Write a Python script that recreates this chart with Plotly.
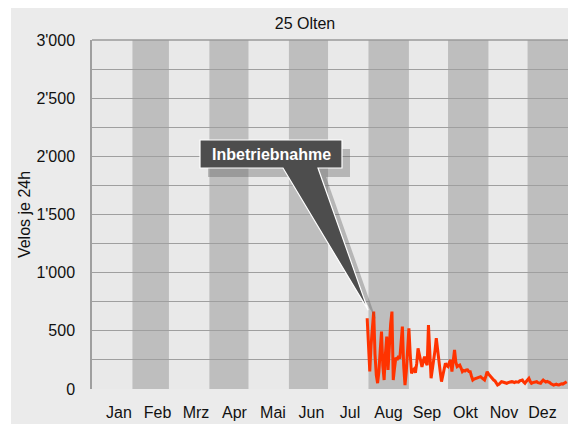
import plotly.graph_objects as go
import pandas as pd

# ---------------- data ----------------
title_text = "25 Olten"
y_title = "Velos je 24h"
callout_text = "Inbetriebnahme"
start_date = "2015-07-31"
month_labels = ["Jan", "Feb", "Mrz", "Apr", "Mai", "Jun",
                "Jul", "Aug", "Sep", "Okt", "Nov", "Dez"]
y_tick_values = [0, 500, 1000, 1500, 2000, 2500, 3000]

daily_counts = [
    608, 420, 150, 380, 560, 665, 300, 120, 50, 150,
    330, 493, 200, 77, 300, 450, 163, 380, 560, 665,
    77, 180, 270, 250, 283, 260, 400, 536, 200, 34,
    150, 330, 521, 300, 135, 160, 172, 140, 220, 350,
    300, 235, 190, 240, 278, 230, 204, 550, 250, 92,
    170, 235, 330, 436, 320, 249, 150, 63, 120, 180,
    221, 200, 192, 230, 249, 149, 250, 335, 230, 192,
    200, 206, 180, 150, 160, 155, 163, 165, 150, 149,
    110, 77, 85, 90, 92, 95, 100, 106, 95, 85,
    77, 110, 149, 130, 115, 106, 90, 77, 70, 50,
    34, 40, 55, 63, 60, 55, 50, 49, 55, 60,
    58, 63, 60, 55, 62, 63, 58, 70, 72, 77,
    60, 49, 65, 80, 92, 65, 49, 55, 60, 58,
    63, 55, 50, 49, 65, 77, 68, 60, 65, 63,
    55, 45, 40, 34, 38, 42, 36, 34, 40, 45,
    42, 49, 55, 63,
]
dates = pd.date_range(start_date, periods=len(daily_counts), freq="D")

# ---------------- layout geometry (page pixels; figure sits at 8,8) ----------------
OFF = 8
W, H = 568 - OFF, 424 - OFF
PL, PR, PT, PB = 92, 568, 40, 389          # plot box in page pixels
pw, ph = PR - PL, PB - PT


def px_x(px):
    return (px - PL) / pw


def px_y(py):
    return (PB - py) / ph


year = dates[0].year
x_start = pd.Timestamp(f"{year}-01-01")
x_end = pd.Timestamp(f"{year + 1}-01-01")
span = x_end - x_start
y_max = 3000

month_starts = pd.date_range(x_start, x_end, freq="MS")
# month labels are evenly spaced along the axis
lab0, lab_step = px_x(99.75), 38.5 / pw
label_pos = [x_start + span * (lab0 + (i + 0.5) * lab_step) for i in range(len(month_labels))]

fig = go.Figure()
fig.add_trace(go.Scatter(
    x=dates, y=daily_counts, mode="lines",
    line=dict(color="#ff3300", width=3),
    hoverinfo="skip", showlegend=False,
))

shapes = []
# thin white strip at the far left of the panel
shapes.append(dict(type="rect", xref="paper", yref="paper",
                   x0=px_x(0), x1=px_x(11), y0=px_y(430), y1=px_y(0),
                   fillcolor="white", line=dict(width=0), layer="below"))
# alternating month bands
for i in range(1, 12, 2):
    shapes.append(dict(type="rect", xref="x", yref="paper",
                       x0=month_starts[i], x1=month_starts[i + 1], y0=0, y1=1,
                       fillcolor="#bebebe", line=dict(width=0), layer="between"))
# top frame line
shapes.append(dict(type="line", xref="paper", yref="paper", x0=0, x1=1, y0=1, y1=1,
                   line=dict(color="#9a9a9a", width=1.5), layer="above"))

# callout, tip pointing at the start of the data
tip_x = (dates[0] - x_start) / span + 0.002
tip_y = (daily_counts[0] + 70) / y_max
bx0, bx1 = px_x(200), px_x(342)
by0, by1 = px_y(168), px_y(140)
tb0, tb1 = px_x(283), px_x(318)


def callout_path(dx, dy):
    pts = [(bx0, by1), (bx1, by1), (bx1, by0), (tb1, by0), (tip_x, tip_y),
           (tb0, by0), (bx0, by0)]
    return "M " + " L ".join(f"{x + dx:.5f},{y + dy:.5f}" for x, y in pts) + " Z"


sdx, sdy = 8 / pw, -9 / ph
shapes.append(dict(type="path", xref="paper", yref="paper", path=callout_path(sdx, sdy),
                   fillcolor="rgba(90,90,90,0.35)", line=dict(width=0), layer="above"))
shapes.append(dict(type="path", xref="paper", yref="paper", path=callout_path(0, 0),
                   fillcolor="#4d4d4d", line=dict(color="white", width=1.2), layer="above"))

fig.update_layout(
    width=W, height=H, autosize=False,
    margin=dict(l=PL - OFF, r=W - (PR - OFF), t=PT - OFF, b=H - (PB - OFF), pad=0),
    paper_bgcolor="#ebebeb", plot_bgcolor="#e9e9e9",
    separators=".'",
    font=dict(family="Liberation Sans, Arial, sans-serif", size=16, color="#111"),
    title=dict(text=title_text, x=(305 - OFF) / W, xanchor="center",
               y=1 - (23.5 - OFF) / H, yanchor="middle", font=dict(size=16, color="#111")),
    shapes=shapes,
    annotations=[dict(text=f"<b>{callout_text}</b>", xref="paper", yref="paper",
                      x=(bx0 + bx1) / 2, y=(by0 + by1) / 2, xanchor="center",
                      yanchor="middle", showarrow=False,
                      font=dict(color="white", size=16))],
    showlegend=False,
)
fig.update_xaxes(
    type="date", range=[x_start, x_end], showgrid=False, zeroline=False,
    tickvals=label_pos, ticktext=month_labels, ticks="", ticklabelstandoff=12,
    showline=False, fixedrange=True, automargin=False,
)
fig.update_yaxes(
    range=[0, y_max], tickvals=y_tick_values, tickformat=",d",
    showgrid=True, gridcolor="#9f9f9f", gridwidth=1,
    minor=dict(dtick=250, showgrid=True, gridcolor="#9f9f9f", gridwidth=1),
    zeroline=False, showline=True, linecolor="#9f9f9f", linewidth=1.5,
    ticks="", ticklabelstandoff=12,
    title=dict(text=y_title, standoff=2, font=dict(size=16)),
    fixedrange=True, automargin=False,
)

fig.write_html("out.html",
               post_script="document.body.style.margin='8px 0 0 8px';"
                           "document.documentElement.style.overflow='hidden';")
